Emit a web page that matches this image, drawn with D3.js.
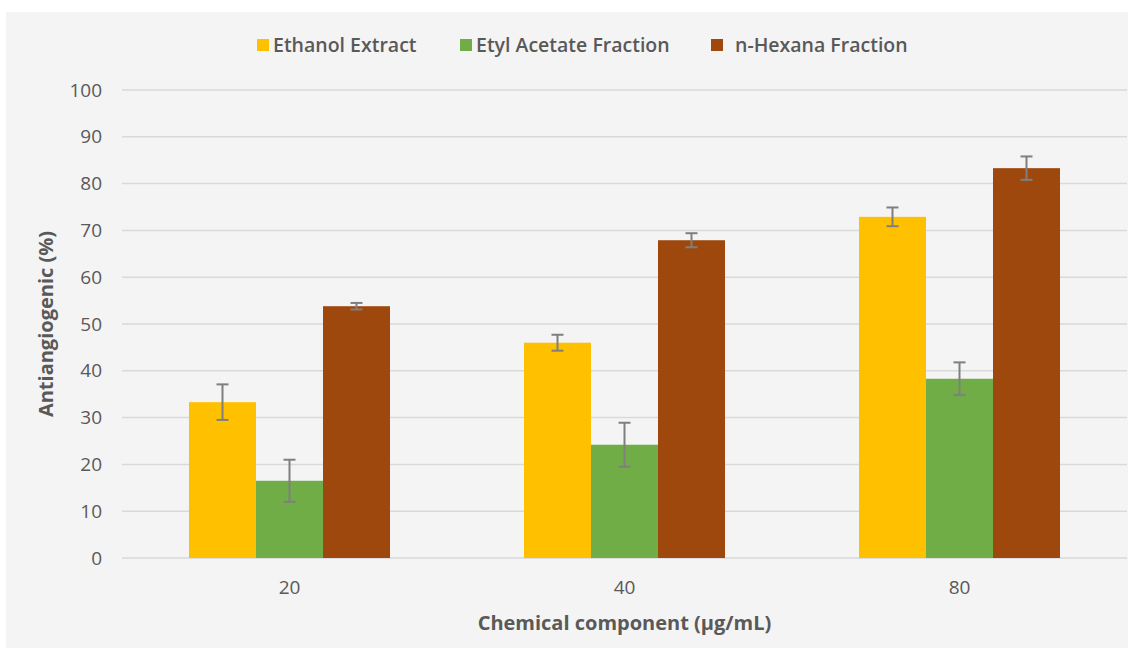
<!DOCTYPE html>
<html>
<head>
<meta charset="utf-8">
<script src="https://cdn.jsdelivr.net/npm/d3@7"></script>
<style>
  body { margin: 0; background: #fff; }
  text { font-family: "Open Sans", "Liberation Sans", sans-serif; }
</style>
</head>
<body>
<script>
// data
const doses = ["20", "40", "80"];
const seriesNames = ["Ethanol Extract", "Etyl Acetate Fraction", "n-Hexana Fraction"];
const ethanol = [33.3, 46.0, 72.9];
const etylAcetate = [16.5, 24.2, 38.3];
const hexana = [53.8, 67.9, 83.3];
const ethanolErr = [3.8, 1.7, 2.0];
const etylAcetateErr = [4.5, 4.7, 3.5];
const hexanaErr = [0.7, 1.5, 2.5];
const yTicks = [0, 10, 20, 30, 40, 50, 60, 70, 80, 90, 100];

const colors = ["#FFC000", "#70AD47", "#9E480E"];

const w = 1137, h = 654;
const plotLeft = 122, plotRight = 1127, plotTop = 90, plotBottom = 558;

const svg = d3.select("body").append("svg")
  .attr("width", w)
  .attr("height", h);

// panel background
svg.append("rect")
  .attr("x", 6).attr("y", 12)
  .attr("width", 1122).attr("height", 636)
  .attr("fill", "#f4f4f4");

const xScale = d3.scaleBand()
  .domain(doses)
  .range([plotLeft, plotRight])
  .paddingInner(0.4)
  .paddingOuter(0.2);

const xSub = d3.scaleBand()
  .domain(seriesNames)
  .range([0, xScale.bandwidth()]);

const yScale = d3.scaleLinear()
  .domain([0, 100])
  .range([plotBottom, plotTop]);

// gridlines
svg.append("g")
  .selectAll("line")
  .data(yTicks)
  .enter()
  .append("line")
  .attr("x1", plotLeft).attr("x2", plotRight)
  .attr("y1", d => yScale(d)).attr("y2", d => yScale(d))
  .attr("stroke", "#d9d9d9")
  .attr("stroke-width", 1.5);

// y tick labels
const yAxis = d3.axisLeft(yScale).tickValues(yTicks).tickSize(0).tickPadding(0);
const gy = svg.append("g")
  .attr("transform", `translate(${plotLeft - 20}, 0)`)
  .call(yAxis);
gy.select(".domain").remove();
gy.selectAll("text")
  .attr("fill", "#595959")
  .style("font-size", "19px");

// x tick labels
const xAxis = d3.axisBottom(xScale).tickSize(0).tickPadding(0);
const gx = svg.append("g")
  .attr("transform", `translate(0, ${plotBottom + 22})`)
  .call(xAxis);
gx.select(".domain").remove();
gx.selectAll("text")
  .attr("fill", "#595959")
  .style("font-size", "19px");

// bars
const table = doses.map((d, i) => ({
  dose: d,
  vals: [
    { name: seriesNames[0], v: ethanol[i], e: ethanolErr[i], c: colors[0] },
    { name: seriesNames[1], v: etylAcetate[i], e: etylAcetateErr[i], c: colors[1] },
    { name: seriesNames[2], v: hexana[i], e: hexanaErr[i], c: colors[2] }
  ]
}));

const groups = svg.append("g")
  .selectAll("g")
  .data(table)
  .enter()
  .append("g")
  .attr("transform", d => `translate(${xScale(d.dose)}, 0)`);

groups.selectAll("rect")
  .data(d => d.vals)
  .enter()
  .append("rect")
  .attr("x", d => xSub(d.name))
  .attr("y", d => yScale(d.v))
  .attr("width", xSub.bandwidth())
  .attr("height", d => plotBottom - yScale(d.v))
  .attr("fill", d => d.c);

// error bars
const capW = 6;
const errs = groups.selectAll("g.err")
  .data(d => d.vals)
  .enter()
  .append("g")
  .attr("class", "err")
  .attr("stroke", "#7f7f7f")
  .attr("stroke-width", 2);

errs.append("line")
  .attr("x1", d => xSub(d.name) + xSub.bandwidth() / 2)
  .attr("x2", d => xSub(d.name) + xSub.bandwidth() / 2)
  .attr("y1", d => yScale(d.v + d.e))
  .attr("y2", d => yScale(d.v - d.e));
errs.append("line")
  .attr("x1", d => xSub(d.name) + xSub.bandwidth() / 2 - capW)
  .attr("x2", d => xSub(d.name) + xSub.bandwidth() / 2 + capW)
  .attr("y1", d => yScale(d.v + d.e))
  .attr("y2", d => yScale(d.v + d.e));
errs.append("line")
  .attr("x1", d => xSub(d.name) + xSub.bandwidth() / 2 - capW)
  .attr("x2", d => xSub(d.name) + xSub.bandwidth() / 2 + capW)
  .attr("y1", d => yScale(d.v - d.e))
  .attr("y2", d => yScale(d.v - d.e));

// axis titles
svg.append("text")
  .attr("transform", `translate(53, ${(plotTop + plotBottom) / 2}) rotate(-90)`)
  .attr("text-anchor", "middle")
  .attr("fill", "#595959")
  .style("font-size", "20px")
  .style("font-weight", "bold")
  .text("Antiangiogenic (%)");

svg.append("text")
  .attr("x", (plotLeft + plotRight) / 2)
  .attr("y", 630)
  .attr("text-anchor", "middle")
  .attr("fill", "#595959")
  .style("font-size", "20px")
  .style("font-weight", "bold")
  .text("Chemical component (µg/mL)");

// legend
const legendX = [257, 460, 711];
const legend = svg.append("g")
  .selectAll("g")
  .data(seriesNames)
  .enter()
  .append("g")
  .attr("transform", (d, i) => `translate(${legendX[i]}, 45)`);

legend.append("rect")
  .attr("x", 0).attr("y", -6)
  .attr("width", 12).attr("height", 12)
  .attr("fill", (d, i) => colors[i]);

legend.append("text")
  .attr("x", (d, i) => i === 2 ? 24 : 16)
  .attr("y", 0)
  .attr("dy", "0.35em")
  .attr("fill", "#595959")
  .style("font-size", "19.5px")
  .style("font-weight", "600")
  .text(d => d);
</script>
</body>
</html>
